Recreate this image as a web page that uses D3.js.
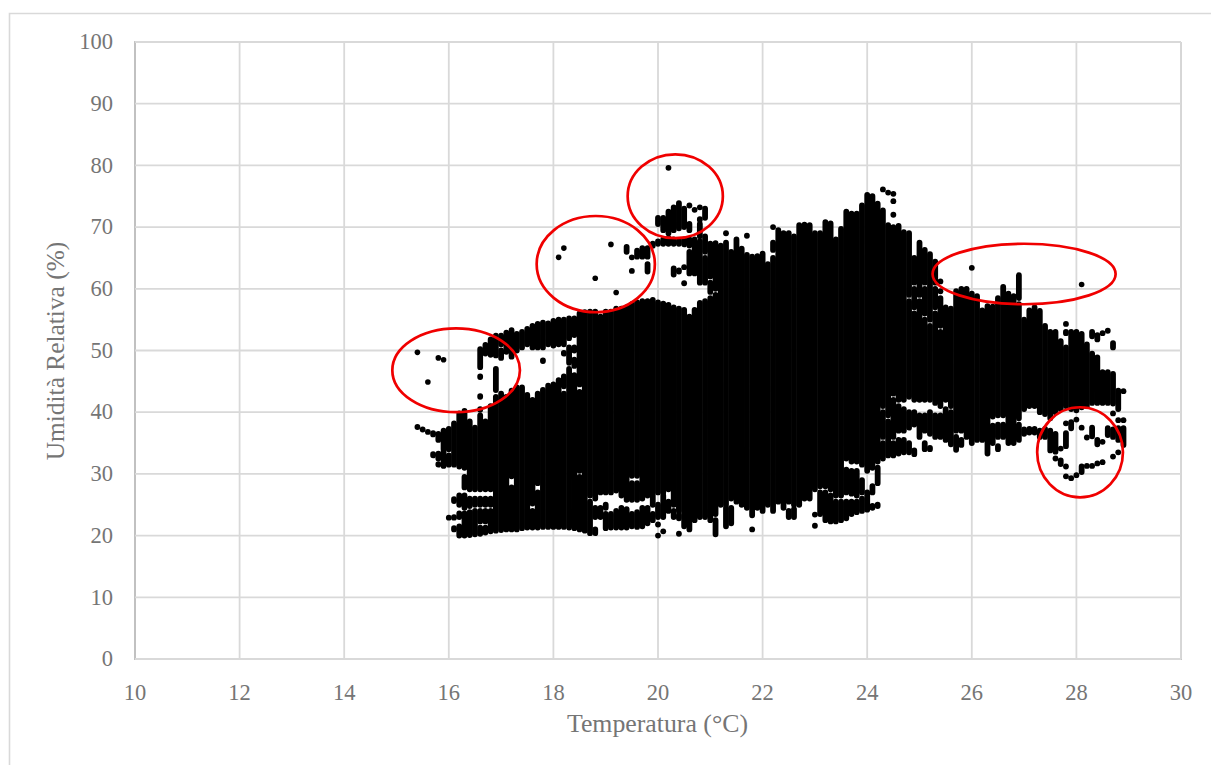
<!DOCTYPE html>
<html><head><meta charset="utf-8">
<script src="https://cdnjs.cloudflare.com/ajax/libs/d3/7.8.5/d3.min.js"></script>
<style>html,body{margin:0;padding:0;background:#fff;overflow:hidden}svg{display:block}</style>
</head><body><svg id="c" width="1211" height="765"></svg>
<script>
const xTicks=[10,12,14,16,18,20,22,24,26,28,30];
const yTicks=[0,10,20,30,40,50,60,70,80,90,100];
const xTitle="Temperatura (°C)";
const yTitle="Umidità Relativa (%)";
// Readings per 0.1 °C column: [lowest, highest] humidity spans of the stacked dots
const columnBands=[
[15.4,[[37.6,37.6]]],[15.5,[[37.2,37.2]]],[15.6,[[36.8,36.8]]],[15.7,[[36.4,36.6],[33,33.2]]],
[15.8,[[35.5,36.5],[32.5,33.3],[31.5,31.6]]],[15.9,[[34,37],[31.3,33.6]]],
[16.0,[[34,37.3],[31.5,33],[22.9,22.9]]],[16.1,[[31.5,38.2],[25.6,25.9],[22.9,23],[21,21.2]]],
[16.2,[[31.2,39.8],[25,26.5],[23,23.6],[20,21.5]]],[16.3,[[31,40.2],[27.8,29.5],[24.5,26.5],[20,23.6]]],
[16.4,[[27.5,38.5],[24.8,26],[20.1,23.8]]],[16.5,[[27.5,37.5],[25,26],[20.2,24]]],
[16.6,[[27.5,39.5],[25,26],[22.3,24],[20.3,21.3],[40.4,40.5],[42.5,42.6],[45.7,45.8],[47.3,50.2]]],
[16.7,[[27.5,38.5],[25,26],[22.3,24],[20.5,21.3],[49.5,50.9]]],
[16.8,[[27.5,41],[25,26],[20.7,24],[49.3,51.8]]],[16.9,[[20.8,42.5],[43.6,47],[49.2,52.4]]],
[17.0,[[20.9,43],[48.8,50],[51,52.4]]],[17.1,[[21,42.5],[49.8,52.9]]],[17.2,[[21,27.8],[29.6,43.5],[49,53.3]]],
[17.3,[[21,44],[50,52.7]]],[17.4,[[21.2,44],[50.5,53]]],[17.5,[[21.3,42.8],[51,53.5]]],
[17.6,[[21.3,24],[25.2,42],[50.5,54]]],[17.7,[[21.3,27],[28.5,43],[50.5,54.3]]],[17.8,[[21.4,43.6],[48.3,48.4],[50.5,54.5]]],
[17.9,[[21.4,44.3],[51,54.4]]],[18.0,[[21.4,44.5],[50.8,54.8]]],[18.1,[[21.4,45.2],[51,55]]],
[18.2,[[21.4,43],[44.2,45.8],[49.5,49.6],[51,55]]],[18.3,[[21.3,47],[48,50.5],[52,55.2]]],
[18.4,[[21.2,46],[47.5,48.5],[50,50.5],[52.5,55.2]]],[18.5,[[21,29.5],[30.5,43.3],[44.5,56]]],[18.6,[[20.8,56.2]]],
[18.7,[[20.4,25.5],[26.5,56.3]]],[18.8,[[20.4,21],[23,24.5],[26,56.3]]],[18.9,[[23,24.5],[27,55.5]]],
[19.0,[[21.2,23.5],[24.5,25],[27,56.3]]],[19.1,[[21.3,23.5],[27,56.3]]],[19.2,[[21.3,24],[27.3,56.8]]],
[19.3,[[21.3,24.5],[26.5,56.8]]],[19.4,[[21.3,24.3],[25.8,57],[66,66.8]]],[19.5,[[21.5,23.5],[25.8,28.5],[29.7,57.5],[65.1,65.1],[62.9,62.9]]],
[19.6,[[21.4,23.8],[25.8,28.5],[29.7,57.8],[65.2,66.2]]],[19.7,[[21.5,24.5],[26,58],[65.2,66.6]]],
[19.8,[[22,24.5],[26.5,58],[62.8,64],[65.2,66.6]]],[19.9,[[22.5,23.5],[25,58.2],[67,67.3]]],
[20.0,[[20,20],[21.8,21.8],[23,25],[27,57.8],[67.3,67.7],[70.5,71.5]]],
[20.1,[[20.7,20.7],[23,26.5],[27,57.6],[67.3,68],[69.5,71.5]]],
[20.2,[[24,25.5],[27.5,57.4],[67.3,68.2],[69,72.5],[79.6,79.6]]],
[20.3,[[23,24],[25,57],[62.3,63.3],[67.3,68],[69.5,73.2]]],
[20.4,[[20.3,20.3],[22.8,23.3],[24,56.8],[62.8,63],[67.3,67.8],[69.8,73.9]]],
[20.5,[[21.5,56.6],[60.9,60.9],[63.5,63.5],[67.2,68],[70,73]]],
[20.6,[[21,55.5],[62.5,66],[67,68],[69.5,70.5],[73.5,73.5]]],
[20.7,[[22.5,56.6],[62.5,66.5],[67,68],[72.8,72.8]]],
[20.8,[[23,57.7],[61,67.7],[68.5,70.5],[71.2,71.3],[73.2,73.2]]],
[20.9,[[23,58],[61,65],[66,68.5],[71.5,73]]],
[21.0,[[22.5,58.5],[59.5,61],[62,67.3]]],[21.1,[[20.2,22.5],[23.5,59],[60,67.4]]],
[21.2,[[25,67]]],[21.3,[[21.5,24.5],[25,67.5],[69,69]]],[21.4,[[22,24.5],[26,66]]],
[21.5,[[25.5,68]]],[21.6,[[25,66.5]]],[21.7,[[24.5,65.5],[68.6,68.6]]],
[21.8,[[21,21],[23.3,65.2]]],[21.9,[[24.5,65.3]]],
[22.0,[[24,65.7]]],[22.1,[[25,64]]],[22.2,[[24,65],[66.3,67.5],[70,70]]],[22.3,[[25.5,69.5]]],
[22.4,[[24.5,69]]],[22.5,[[23,24],[25.5,69]]],[22.6,[[23,24.3],[25,68.5]]],[22.7,[[25,70.3]]],
[22.8,[[26,70.4]]],[22.9,[[26,70.3]]],[23.0,[[21.6,21.6],[23.4,23.4],[27.5,69]]],
[23.1,[[23.5,27],[28,69]]],[23.2,[[22.5,27],[28,70.8]]],[23.3,[[22.3,26.5],[27.5,70.6]]],
[23.4,[[22.3,25.5],[26.5,68]]],[23.5,[[22.5,25.5],[26.5,69.7]]],
[23.6,[[22.8,25.5],[27,30.7],[32.5,72.5]]],[23.7,[[23.5,25.5],[26.8,30.5],[32,72.2]]],
[23.8,[[23.8,25.5],[26.5,30.5],[32,72.2]]],[23.9,[[24,26],[27,29],[31.5,73.5]]],
[24.0,[[24.2,27],[30.5,75.2]]],[24.1,[[24.5,24.8],[27,28],[31,75]]],[24.2,[[24.8,25],[28.5,31],[32,73.8]]],
[24.3,[[32.5,35],[36,40],[41,72.7],[76.1,76.1]]],[24.4,[[33,38.5],[39.5,70.3],[75.6,75.6]]],
[24.5,[[33,35],[36,42],[43,70],[72,72],[74.2,74.2],[75.4,75.4]]],[24.6,[[33.3,35.5],[37,41],[42,70.2]]],
[24.7,[[33.5,35.5],[37,40.5],[42,69.2]]],[24.8,[[33.5,35],[37.5,40],[42.5,58],[59,69]]],
[24.9,[[33.2,33.8],[38,40],[42,56],[57,60],[61,65]]],[25.0,[[36,39.5],[42,58],[59,67.5]]],
[25.1,[[34,35],[37,39.5],[42,55],[56,60],[61,66.3]]],[25.2,[[34,34.2],[36.5,40],[42,54],[55,65.6]]],
[25.3,[[36,39.5],[41.5,56],[57,60],[61,64.4]]],[25.4,[[36,39.5],[41,53],[54,58.5],[59.6,59.6],[61.2,61.2]]],
[25.5,[[35.5,40.5],[42,57]]],[25.6,[[34.8,40],[41,56.8]]],[25.7,[[33.9,36],[37,59.6]]],
[25.8,[[34.7,35.5],[37,60]]],[25.9,[[36,60]]],[26.0,[[35,59.2],[63.4,63.4]]],[26.1,[[35.5,58.8]]],
[26.2,[[35.5,56.5]]],[26.3,[[33.3,57.2]]],[26.4,[[35,37.8],[39.3,57.1]]],[26.5,[[34,34.5],[36,38],[39.5,58.5]]],
[26.6,[[36,38],[39.5,60.3]]],[26.7,[[35,59.2]]],[26.8,[[35,58.8]]],[26.9,[[35.5,38],[39,57.5],[58.5,62.2]]],
[27.0,[[36.5,37.2],[40.5,55]]],[27.1,[[36.7,37.3],[41,56.5]]],[27.2,[[36.7,37.3],[41,57]]],
[27.3,[[36,37],[40,56.4]]],[27.4,[[36,37.3],[39.7,54]]],[27.5,[[33.8,37],[39,53]]],
[27.6,[[32.5,32.5],[33.6,36.5],[40,53]]],[27.7,[[31.6,32.2],[34.1,34.1],[40.5,51.5]]],
[27.8,[[29.6,29.6],[31.2,31.2],[34.5,36.6],[38.2,38.2],[41,50.5],[52.8,53],[54.3,54.3]]],
[27.9,[[29.3,29.3],[37.4,38.4],[40.5,53]]],[28.0,[[29.8,29.8],[38.8,38.8],[40.3,53]]],
[28.1,[[30.3,31.2],[37.5,37.5],[40.8,52.7]]],[28.2,[[31.3,31.3],[35.9,35.9],[41,51]]],
[28.3,[[31.3,31.3],[36.1,37.5],[41.5,49.5],[52.3,53]]],[28.4,[[31.7,31.7],[34.8,35.5],[41.5,48.9],[51.8,52.5]]],
[28.5,[[31.9,31.9],[35.2,35.2],[41.5,46.5],[52.8,52.8]]],[28.6,[[36.3,37.4],[41.5,46.5],[53.2,53.2]]],
[28.7,[[32.8,32.8],[36,37.2],[39.8,39.8],[41.4,46.2],[50.5,51.2]]],
[28.8,[[33.5,33.5],[35.5,37.4],[38.7,38.7],[40.5,43.5]]],[28.9,[[34.7,37.4],[38.7,38.7],[43.4,43.4]]]
];
const strayTemps=[15.4,15.6,15.8,15.9,18.1,18.2,18.8,19.1,19.2,28.1];
const strayHumidity=[49.7,44.9,48.8,48.5,65.1,66.6,61.7,67.2,59.4,60.7];
const ringLabels=["a","b","c","d","e"];
const ringTemps=[16.14,18.81,20.33,27,28.07];
const ringHumidity=[46.8,64,75,62.4,33.5];
const ringTempRadius=[1.22,1.13,0.91,1.75,0.82];
const ringHumidityRadius=[6.8,7.8,6.8,4.9,7.3];

const svg=d3.select("#c");
const x=d3.scaleLinear().domain([10,30]).range([135,1181]);
const y=d3.scaleLinear().domain([0,100]).range([659,42]);
const font='"Liberation Serif",serif', grey="#757575";

svg.append("path").attr("d","M9.5,765V13.5H1211").attr("fill","none").attr("stroke","#d9d9d9").attr("stroke-width",1.6);

const gx=svg.append("g").attr("transform","translate(0,659)").call(d3.axisBottom(x).offset(0).tickValues(xTicks).tickSize(-617).tickPadding(25).tickFormat(d3.format("d")));
const gy=svg.append("g").attr("transform","translate(135,0)").call(d3.axisLeft(y).offset(0).tickValues(yTicks).tickSize(-1046).tickPadding(22).tickFormat(d3.format("d")));
[gx,gy].forEach(g=>{
  g.select(".domain").attr("stroke","#bfbfbf").attr("stroke-width",1.8);
  g.selectAll(".tick line").attr("stroke","#d9d9d9").attr("stroke-width",1.8);
  g.selectAll("text").attr("fill",grey).attr("font-family",font).attr("font-size",22.5);
});

const spans=columnBands.flatMap(([t,bands])=>bands.map(b=>({t,lo:b[0],hi:b[1]})));
svg.append("g").selectAll("line").data(spans).join("line")
  .attr("x1",d=>x(d.t)).attr("x2",d=>x(d.t)+0.01)
  .attr("y1",d=>y(d.lo)).attr("y2",d=>y(d.hi))
  .attr("stroke","#000").attr("stroke-width",5.8).attr("stroke-linecap","round");
svg.append("g").selectAll("circle").data(strayTemps).join("circle")
  .attr("cx",d=>x(d)).attr("cy",(d,i)=>y(strayHumidity[i])).attr("r",2.8).attr("fill","#000");

svg.append("g").selectAll("ellipse").data(ringLabels).join("ellipse")
  .attr("cx",(d,i)=>x(ringTemps[i])).attr("cy",(d,i)=>y(ringHumidity[i]))
  .attr("rx",(d,i)=>x(ringTempRadius[i])-x(0)).attr("ry",(d,i)=>y(0)-y(ringHumidityRadius[i]))
  .attr("fill","none").attr("stroke","#f00000").attr("stroke-width",2.7);

svg.append("text").attr("x",657.5).attr("y",732).attr("text-anchor","middle").attr("fill",grey)
  .attr("font-family",font).attr("font-size",25.8).text(xTitle);
svg.append("text").attr("transform","translate(64,351) rotate(-90)").attr("text-anchor","middle").attr("fill",grey)
  .attr("font-family",font).attr("font-size",25.4).text(yTitle);
</script></body></html>
